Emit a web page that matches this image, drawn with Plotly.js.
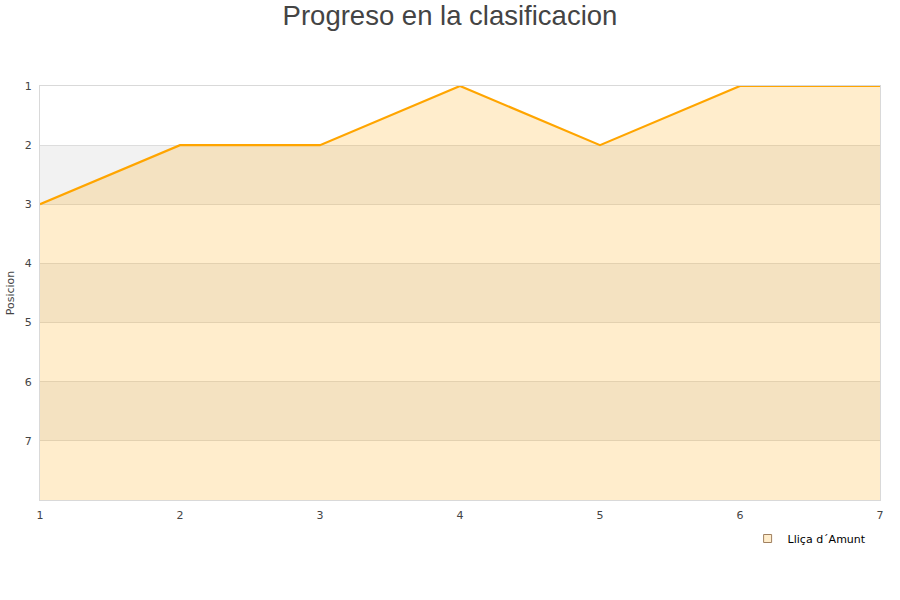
<!DOCTYPE html>
<html><head><meta charset="utf-8">
<script src="https://cdn.plot.ly/plotly-3.0.1.min.js"></script>
<style>html,body{margin:0;padding:0;background:#fff}#chart{width:900px;height:600px}</style>
</head><body><div id="chart"></div>
<script>
const jornadas = [1, 2, 3, 4, 5, 6, 7];
const posiciones = [3, 2, 2, 1, 2, 1, 1];
const teamName = "Lliça d´Amunt";
const yTicks = [1, 2, 3, 4, 5, 6, 7];
const maxPos = 8;

const baseline = jornadas.map(() => maxPos);

const stripes = [];
for (let p = 2; p < maxPos; p += 2) {
  stripes.push({type:'rect', xref:'paper', yref:'y', x0:0, x1:1, y0:p, y1:p+1,
    fillcolor:'#f2f2f2', line:{width:0}, layer:'below'});
}

const traces = [
  {x: jornadas, y: baseline, mode:'lines', line:{width:0, color:'rgba(0,0,0,0)'},
   showlegend:false, hoverinfo:'skip'},
  {x: jornadas, y: posiciones, mode:'lines', fill:'tonexty',
   fillcolor:'rgba(255,165,0,0.2)', line:{color:'#ffa500', width:2.2},
   showlegend:false, name: teamName},
  {x:[null], y:[null], mode:'markers', name: teamName,
   marker:{symbol:'square', size:8, color:'#ffedcc', line:{color:'#a08060', width:1}}}
];

const layout = {
  width:900, height:600,
  margin:{l:40, r:20, t:86, b:100},
  paper_bgcolor:'#fff', plot_bgcolor:'#fff',
  title:{text:'Progreso en la clasificacion', x:0.5, xanchor:'center', y:0.99, yanchor:'top',
    font:{family:'Liberation Sans, Arial, sans-serif', size:27.5, color:'#444'}},
  font:{family:'DejaVu Sans, sans-serif', size:11, color:'#444'},
  xaxis:{range:[1,7], tickvals:jornadas, showgrid:false, zeroline:false,
    showline:true, linecolor:'#d9d9d9', linewidth:1, mirror:true,
    ticks:'outside', ticklen:5, tickcolor:'rgba(0,0,0,0)',
    tickfont:{size:11, color:'#444'}},
  yaxis:{range:[maxPos,1], tickvals:yTicks, showgrid:true, gridcolor:'#dddddd',
    zeroline:false, showline:true, linecolor:'#d9d9d9', linewidth:1, mirror:true,
    ticks:'outside', ticklen:5, tickcolor:'rgba(0,0,0,0)',
    tickfont:{size:11, color:'#444'},
    title:{text:'Posicion', font:{size:11, color:'#444'}, standoff:7}},
  shapes: stripes,
  showlegend:true,
  legend:{x:0.99, xanchor:'right', y:-0.058, yanchor:'top', orientation:'h',
    font:{size:11, color:'#000'}, bgcolor:'rgba(0,0,0,0)'}
};

Plotly.newPlot('chart', traces, layout, {displayModeBar:false});
</script></body></html>
